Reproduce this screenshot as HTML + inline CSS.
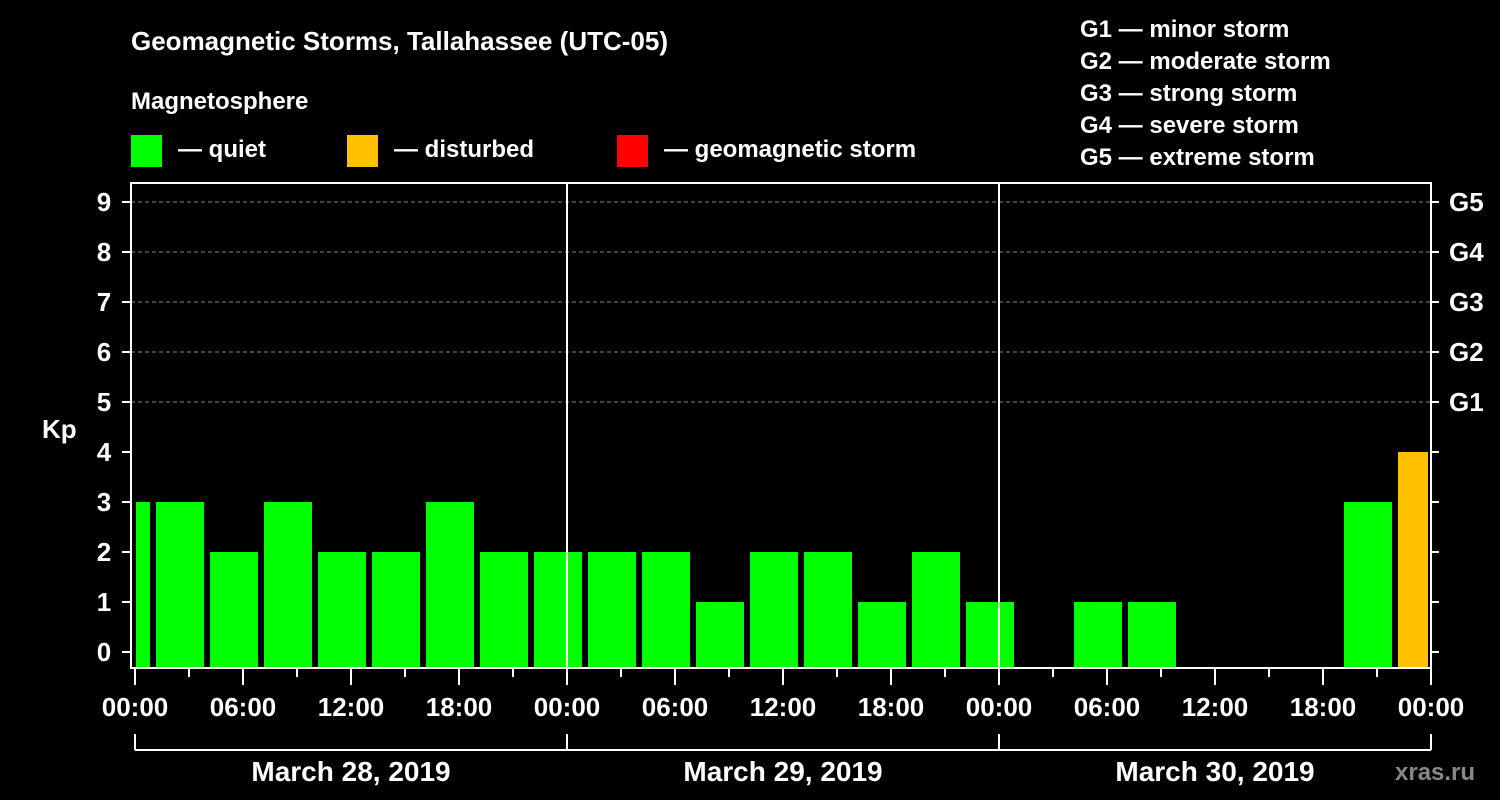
<!DOCTYPE html>
<html><head><meta charset="utf-8"><style>
body{margin:0;background:#000;}
svg{display:block;font-family:"Liberation Sans",sans-serif;font-weight:bold;}
</style></head><body>
<svg id="chart" width="1500" height="800" viewBox="0 0 1500 800">
<rect width="1500" height="800" fill="#000"/>
<text x="131" y="50" fill="#fff" font-size="26">Geomagnetic Storms, Tallahassee (UTC-05)</text>
<text x="131" y="109" fill="#fff" font-size="24">Magnetosphere</text>
<g><rect x="131" y="135" width="31" height="32" fill="#00ff00"/><text x="178" y="157" fill="#fff" font-size="24">— quiet</text></g>
<g><rect x="347" y="135" width="31" height="32" fill="#ffc000"/><text x="394" y="157" fill="#fff" font-size="24">— disturbed</text></g>
<g><rect x="617" y="135" width="31" height="32" fill="#ff0000"/><text x="664" y="157" fill="#fff" font-size="24">— geomagnetic storm</text></g>
<g fill="#fff" font-size="24">
<text x="1080" y="37">G1 — minor storm</text>
<text x="1080" y="69">G2 — moderate storm</text>
<text x="1080" y="101">G3 — strong storm</text>
<text x="1080" y="133">G4 — severe storm</text>
<text x="1080" y="165">G5 — extreme storm</text>
</g>
<text x="42" y="438" fill="#fff" font-size="26">Kp</text>
<text x="1395" y="780" fill="#888" font-size="24">xras.ru</text>
<g id="grid"></g><g id="bars"></g><g id="axes"></g>
</svg>
<script>
const kpValues=[3,3,2,3,2,2,3,2,2,2,2,1,2,2,1,2,1,null,1,1,null,null,null,3,4];
const barStartHours=[-2,1,4,7,10,13,16,19,22,25,28,31,34,37,40,43,46,49,52,55,58,61,64,67,70];
const yTickLabels=["0","1","2","3","4","5","6","7","8","9"];
const gLabels=["G1","G2","G3","G4","G5"];
const gLevels=[5,6,7,8,9];
const xTickLabels=["00:00","06:00","12:00","18:00","00:00","06:00","12:00","18:00","00:00","06:00","12:00","18:00","00:00"];
const dayLabels=["March 28, 2019","March 29, 2019","March 30, 2019"];
const NS="http://www.w3.org/2000/svg";
const X0=135,HOURPX=18,LEFT=131,RIGHT=1431,TOP=183,BOTTOM=668;
function x(h){return X0+h*HOURPX;}
function y(v){return 652-v*50;}
function mk(parent,tag,attrs){const e=document.createElementNS(NS,tag);for(const k in attrs)e.setAttribute(k,attrs[k]);document.getElementById(parent).appendChild(e);return e;}
gLevels.forEach((v,i)=>{
 const l=mk('grid','line',{x1:LEFT,x2:RIGHT,y1:y(v),y2:y(v),stroke:'#888','stroke-dasharray':'4,3','stroke-width':1});
 
 
 const t=mk('axes','text',{x:1449,y:y(v)+9,fill:'#fff','font-size':26});t.textContent=gLabels[i];
 
 
});
kpValues.forEach((v,i)=>{
 if(v===null)return;
 const x1=Math.max(x(barStartHours[i])+3,LEFT+5),x2=Math.min(x(barStartHours[i]+3)-3,RIGHT-3);
 const r=mk('bars','rect',{x:x1,y:y(v),width:x2-x1,height:BOTTOM-y(v),fill:v>=5?'#ff0000':(v>=4?'#ffc000':'#00ff00')});
 
 
});
mk('axes','rect',{x:LEFT,y:TOP,width:RIGHT-LEFT,height:BOTTOM-TOP,fill:'none',stroke:'#fff','stroke-width':2});
[1,2].forEach(d=>{mk('axes','line',{x1:x(24*d),x2:x(24*d),y1:TOP,y2:BOTTOM,stroke:'#fff','stroke-width':2});});
yTickLabels.forEach((lab,v)=>{
 mk('axes','line',{x1:LEFT-9,x2:LEFT,y1:y(v),y2:y(v),stroke:'#fff','stroke-width':2});
 mk('axes','line',{x1:RIGHT,x2:RIGHT+8,y1:y(v),y2:y(v),stroke:'#fff','stroke-width':2});
 const t=mk('axes','text',{x:104,y:y(v)+9,'text-anchor':'middle',fill:'#fff','font-size':26});t.textContent=lab;
 
 
});
for(let h=0;h<=72;h+=3){
 const major=h%6===0;
 mk('axes','line',{x1:x(h),x2:x(h),y1:BOTTOM,y2:BOTTOM+(major?17:9),stroke:'#fff','stroke-width':2});
}
xTickLabels.forEach((lab,i)=>{
 const t=mk('axes','text',{x:x(i*6),y:716,'text-anchor':'middle',fill:'#fff','font-size':26});t.textContent=lab;
 
 
});
mk('axes','line',{x1:x(0),x2:x(72),y1:750,y2:750,stroke:'#fff','stroke-width':2});
[0,24,48,72].forEach(h=>mk('axes','line',{x1:x(h),x2:x(h),y1:734,y2:750,stroke:'#fff','stroke-width':2}));
dayLabels.forEach((lab,i)=>{
 const t=mk('axes','text',{x:x(24*i+12),y:781,'text-anchor':'middle',fill:'#fff','font-size':28});t.textContent=lab;
 
 
});
</script>
</body></html>
